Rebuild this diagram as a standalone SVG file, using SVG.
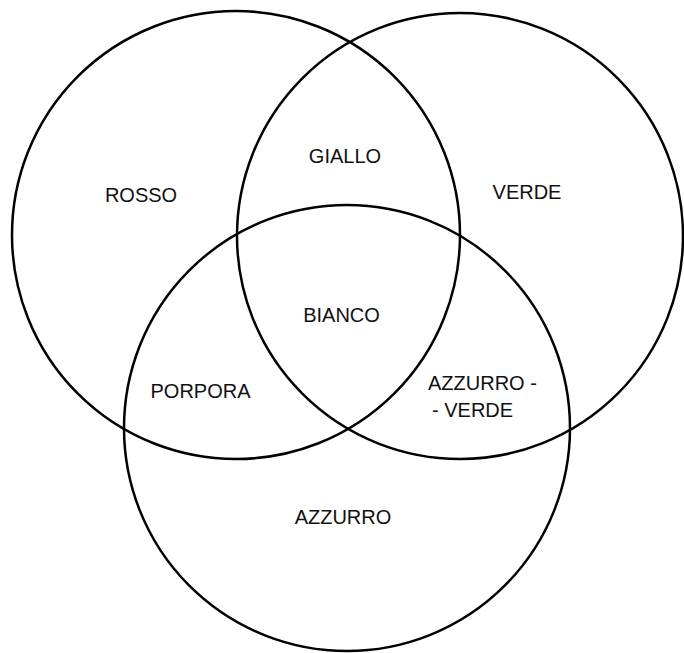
<svg xmlns="http://www.w3.org/2000/svg" width="684" height="653" viewBox="0 0 684 653">
<style>
.c{fill:none;stroke:#000;stroke-width:2.5}
text{font-family:"Liberation Sans",Arial,sans-serif;font-size:20px;fill:#111}
.m{text-anchor:middle}
</style>
<rect width="684" height="653" fill="#fff"/>
<g id="circles">
<circle id="rosso" class="c" cx="236" cy="235" r="224"/>
<circle id="verde" class="c" cx="460" cy="236" r="223"/>
<circle id="azzurro" class="c" cx="347" cy="428" r="223"/>
</g>
<g id="labels">
<text class="m" x="141" y="202">ROSSO</text>
<text class="m" x="345" y="163">GIALLO</text>
<text class="m" x="527" y="199">VERDE</text>
<text class="m" x="341.5" y="322">BIANCO</text>
<text class="m" x="200.5" y="398">PORPORA</text>
<text x="428" y="390">AZZURRO -</text>
<text x="432" y="417">- VERDE</text>
<text class="m" x="343" y="524">AZZURRO</text>
</g>
</svg>
